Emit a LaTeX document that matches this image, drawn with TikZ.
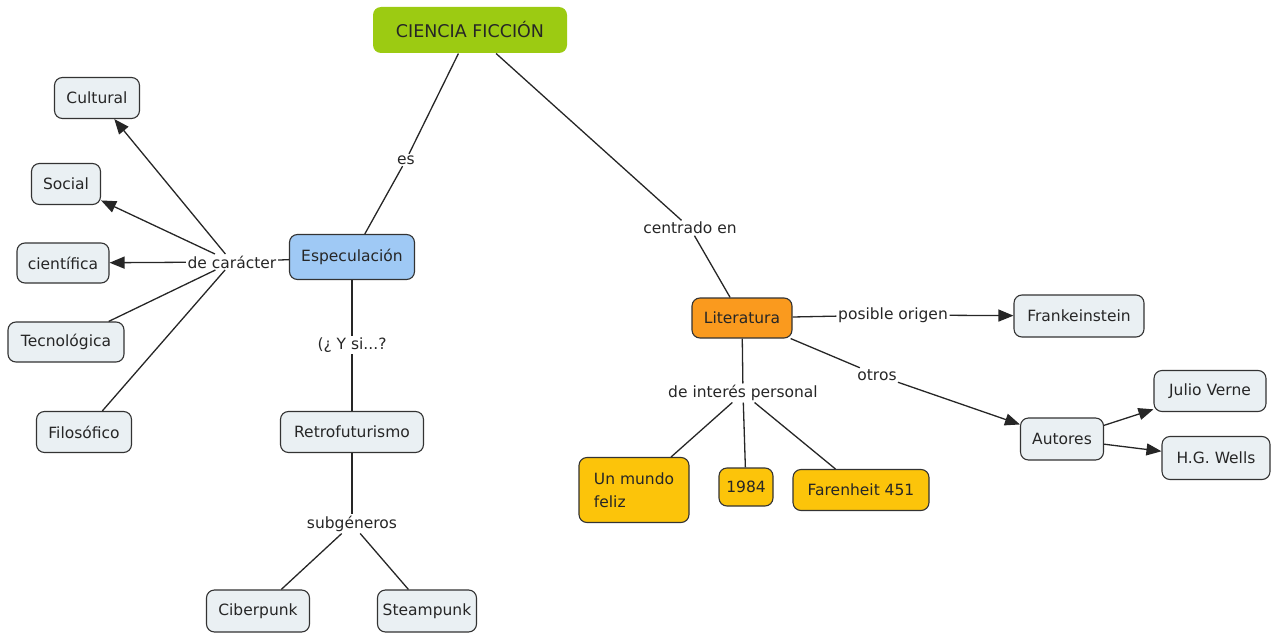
\documentclass[tikz,border=0pt]{standalone}
\usepackage{fontspec}
\setmainfont{DejaVu Sans}
\usetikzlibrary{arrows.meta}
\definecolor{cfgreen}{HTML}{9CCB12}
\definecolor{boxgray}{HTML}{EAF0F3}
\definecolor{espblue}{HTML}{9FC9F5}
\definecolor{litorange}{HTML}{FA9A1E}
\definecolor{bookyellow}{HTML}{FCC40A}
\definecolor{edge}{HTML}{333333}
\begin{document}
\begin{tikzpicture}[x=1pt,y=-1pt,
  font=\fontsize{15.5}{23}\selectfont,
  concept/.style={draw=edge,line width=1.1pt,rounded corners=8pt,fill=boxgray,inner sep=0pt,text=black!85},
  link/.style={inner sep=1.5pt,text=black!85},
  conn/.style={draw=black!85,line width=1.3pt},
  arr/.style={conn,-{Triangle[length=15pt,width=12pt]}}]
\useasboundingbox (0,0) rectangle (1277,634);
% concepts
\node[concept,fill=cfgreen,draw=none,minimum width=194pt,minimum height=46pt,font=\fontsize{17.5}{20}\selectfont] (cf) at (470,30) {CIENCIA FICCIÓN};
\node[concept,minimum width=85pt,minimum height=41pt] (cul) at (97,98) {Cultural};
\node[concept,minimum width=69pt,minimum height=41pt] (soc) at (66,184) {Social};
\node[concept,minimum width=92pt,minimum height=40pt] (cie) at (63,263) {científica};
\node[concept,minimum width=116pt,minimum height=40pt] (tec) at (66,342) {Tecnológica};
\node[concept,minimum width=95pt,minimum height=41pt] (fil) at (84,432) {Filosófico};
\node[concept,fill=espblue,minimum width=125pt,minimum height=45pt] (esp) at (352,257) {Especulación};
\node[concept,minimum width=143pt,minimum height=41pt] (ret) at (352,432) {Retrofuturismo};
\node[concept,minimum width=103pt,minimum height=42pt] (cib) at (258,611) {Ciberpunk};
\node[concept,minimum width=99pt,minimum height=42pt] (ste) at (427,611) {Steampunk};
\node[concept,fill=litorange,minimum width=100pt,minimum height=40pt] (lit) at (742,318) {Literatura};
\node[concept,minimum width=130pt,minimum height=42pt] (fra) at (1079,316) {Frankeinstein};
\node[concept,minimum width=83pt,minimum height=42pt] (aut) at (1062,439) {Autores};
\node[concept,minimum width=112pt,minimum height=41pt] (jul) at (1210,391) {Julio Verne};
\node[concept,minimum width=108pt,minimum height=43pt] (hgw) at (1216,458) {H.G. Wells};
\node[concept,fill=bookyellow,minimum width=110pt,minimum height=65pt,align=left] (mun) at (634,490) {Un mundo\\feliz};
\node[concept,fill=bookyellow,minimum width=54pt,minimum height=38pt] (n84) at (746,487) {1984};
\node[concept,fill=bookyellow,minimum width=136pt,minimum height=41pt] (far) at (861,490) {Farenheit 451};
% linking phrases
\node[link] (es) at (406,160) {es};
\node[link] (cen) at (690,228) {centrado en};
\node[link] (car) at (232,262) {de carácter};
\node[link] (ysi) at (352,345) {(¿ Y si...?};
\node[link] (sub) at (352,524) {subgéneros};
\node[link] (pos) at (893,315) {posible origen};
\node[link] (otr) at (877,375) {otros};
\node[link] (int) at (743,393) {de interés personal};
% connectors
\draw[conn] (cf) -- (es);
\draw[conn] (es) -- (esp);
\draw[conn] (cf) -- (cen);
\draw[conn] (cen) -- (lit);
\draw[conn] (esp) -- (car);
\draw[arr] (car) -- (cul);
\draw[arr] (car) -- (soc);
\draw[arr] (car) -- (cie);
\draw[conn] (car) -- (tec);
\draw[conn] (car) -- (fil);
\draw[conn] (esp) -- (ysi);
\draw[conn] (ysi) -- (ret);
\draw[conn] (ret) -- (sub);
\draw[conn] (sub) -- (cib);
\draw[conn] (sub) -- (ste);
\draw[conn] (lit) -- (pos);
\draw[arr] (pos) -- (fra);
\draw[conn] (lit) -- (otr);
\draw[arr] (otr) -- (aut);
\draw[arr] (aut) -- (jul);
\draw[arr] (aut) -- (hgw);
\draw[conn] (lit) -- (int);
\draw[conn] (int) -- (mun);
\draw[conn] (int) -- (n84);
\draw[conn] (int) -- (far);
\end{tikzpicture}
\end{document}
